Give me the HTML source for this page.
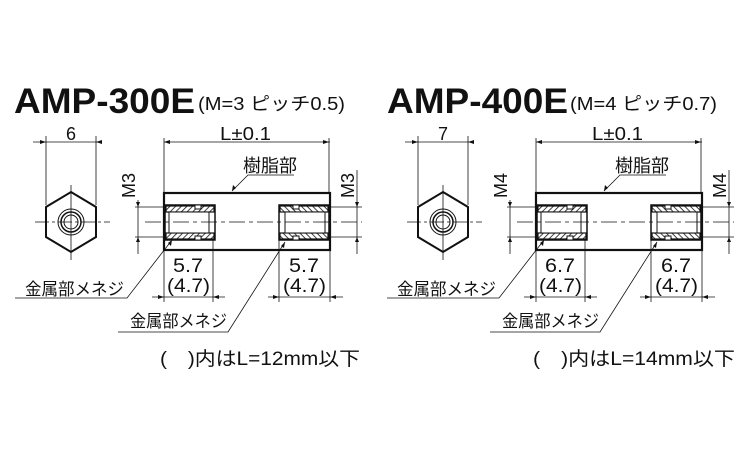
<!DOCTYPE html>
<html><head><meta charset="utf-8"><style>
html,body{margin:0;padding:0;background:#fff;width:750px;height:450px;overflow:hidden}
svg{display:block}
text{font-family:"Liberation Sans","Noto Sans CJK JP",sans-serif;fill:#111}
</style></head><body>
<svg width="750" height="450" viewBox="0 0 750 450" xmlns="http://www.w3.org/2000/svg">
<defs>
<pattern id="h" width="4" height="4" patternUnits="userSpaceOnUse" patternTransform="rotate(45)">
<rect width="4" height="4" fill="#fff"/><line x1="0" y1="0" x2="0" y2="4" stroke="#111" stroke-width="1.6"/></pattern>
<g id="ins">
<rect x="0" y="0" width="50" height="35" fill="#fff" stroke="#111" stroke-width="1.5"/>
<rect x="1" y="1" width="48" height="6" fill="url(#h)" stroke="#111" stroke-width="1.2"/>
<rect x="1" y="28" width="48" height="6" fill="url(#h)" stroke="#111" stroke-width="1.2"/>
<rect x="4" y="7" width="40" height="21" fill="#fff" stroke="#111" stroke-width="1"/>
<rect x="30" y="0" width="6" height="4" fill="#fff" stroke="#111" stroke-width="1"/>
<rect x="30" y="31" width="6" height="4" fill="#fff" stroke="#111" stroke-width="1"/>
</g>
<g id="part" stroke="#111" fill="none">
<line x1="33" y1="142" x2="100" y2="142" stroke-width="0.8"/>
<line x1="46" y1="136" x2="46" y2="205" stroke-width="0.8"/>
<line x1="96" y1="136" x2="96" y2="205" stroke-width="0.8"/>
<polygon points="71,192 96,207 96,237 71,252 46,237 46,207" stroke-width="2" fill="#fff"/>
<circle cx="71" cy="222" r="13" stroke-width="1"/>
<circle cx="71" cy="222" r="10" stroke-width="1.5"/>
<circle cx="71" cy="222" r="7" stroke-width="1"/>
<line x1="35" y1="222" x2="110" y2="222" stroke-width="0.8" stroke-dasharray="14,3,3,3"/>
<line x1="71" y1="185" x2="71" y2="260" stroke-width="0.8"/>
<line x1="164" y1="142" x2="330" y2="142" stroke-width="0.8"/>
<line x1="164" y1="138" x2="164" y2="193" stroke-width="0.8"/>
<line x1="329" y1="138" x2="329" y2="193" stroke-width="0.8"/>
<rect x="164" y="193" width="166" height="57" stroke-width="2.2" fill="#fff"/>
<use href="#ins" x="165" y="205"/>
<use href="#ins" transform="translate(329,205) scale(-1,1)"/>
<line x1="145" y1="222" x2="362" y2="222" stroke-width="0.8" stroke-dasharray="16,4,4,4"/>
<line x1="135" y1="207" x2="165" y2="207" stroke-width="0.8"/>
<line x1="135" y1="237" x2="165" y2="237" stroke-width="0.8"/>
<line x1="138" y1="200" x2="138" y2="254" stroke-width="0.8"/>
<line x1="330" y1="207" x2="362" y2="207" stroke-width="0.8"/>
<line x1="330" y1="237" x2="362" y2="237" stroke-width="0.8"/>
<line x1="357" y1="170" x2="357" y2="254" stroke-width="0.8"/>
<polyline points="294,175 248,175 232,191" stroke-width="0.8"/>
<line x1="152" y1="297" x2="225" y2="297" stroke-width="0.8"/>
<line x1="213" y1="240" x2="213" y2="302" stroke-width="0.8"/>
<line x1="164" y1="250" x2="164" y2="302" stroke-width="0.8"/>
<line x1="268" y1="297" x2="343" y2="297" stroke-width="0.8"/>
<line x1="279" y1="240" x2="279" y2="302" stroke-width="0.8"/>
<line x1="330" y1="250" x2="330" y2="302" stroke-width="0.8"/>
<polyline points="15,298 127,298 172,240" stroke-width="0.8"/>
<polyline points="118,332 228,332 285,242" stroke-width="0.8"/>
</g>
<g id="arr" fill="#111">
<path d="M164,142 l6,-2 v4z M329,142 l-6,-2 v4z"/>
<path d="M46,142 l-6,-2 v4z M96,142 l6,-2 v4z"/>
<path d="M138,207 l-2,-5 h4z M138,237 l-2,5 h4z M357,207 l-2,-5 h4z M357,237 l-2,5 h4z"/>
<path d="M164,297 l-6,-2 v4z M213,297 l6,-2 v4z M279,297 l-6,-2 v4z M330,297 l6,-2 v4z"/>
<path d="M232,191 l1,-6 l3,3z M172,240 l-1,6 l-3,-3z M285,242 l-1,6 l-3,-2z"/>
</g>
</defs>

<use href="#part"/><use href="#arr"/>
<use href="#part" x="372"/><use href="#arr" x="372"/>

<text x="14" y="113" font-size="35" font-weight="bold" textLength="181" lengthAdjust="spacingAndGlyphs">AMP-300E</text>
<text x="198" y="110" font-size="18" textLength="147" lengthAdjust="spacingAndGlyphs">(M=3 ピッチ0.5)</text>
<text x="66" y="140" font-size="18">6</text>
<text x="220" y="140" font-size="18" textLength="51" lengthAdjust="spacingAndGlyphs">L±0.1</text>
<text x="243" y="172" font-size="18" textLength="54" lengthAdjust="spacingAndGlyphs">樹脂部</text>
<text transform="translate(135,198) rotate(-90)" font-size="18" textLength="25" lengthAdjust="spacingAndGlyphs">M3</text>
<text transform="translate(354,198) rotate(-90)" font-size="18" textLength="25" lengthAdjust="spacingAndGlyphs">M3</text>
<text x="173" y="272" font-size="19" textLength="30" lengthAdjust="spacingAndGlyphs">5.7</text>
<text x="167" y="292" font-size="19" textLength="43" lengthAdjust="spacingAndGlyphs">(4.7)</text>
<text x="289" y="272" font-size="19" textLength="30" lengthAdjust="spacingAndGlyphs">5.7</text>
<text x="283" y="292" font-size="19" textLength="43" lengthAdjust="spacingAndGlyphs">(4.7)</text>
<text x="25" y="295" font-size="17" textLength="99" lengthAdjust="spacingAndGlyphs">金属部メネジ</text>
<text x="130" y="327" font-size="17" textLength="97" lengthAdjust="spacingAndGlyphs">金属部メネジ</text>
<text x="160" y="365" font-size="19" textLength="200" lengthAdjust="spacingAndGlyphs">(　)内はL=12mm以下</text>

<text x="387" y="113" font-size="35" font-weight="bold" textLength="181" lengthAdjust="spacingAndGlyphs">AMP-400E</text>
<text x="570" y="110" font-size="18" textLength="147" lengthAdjust="spacingAndGlyphs">(M=4 ピッチ0.7)</text>
<text x="438" y="140" font-size="18">7</text>
<text x="592" y="140" font-size="18" textLength="51" lengthAdjust="spacingAndGlyphs">L±0.1</text>
<text x="615" y="172" font-size="18" textLength="54" lengthAdjust="spacingAndGlyphs">樹脂部</text>
<text transform="translate(507,198) rotate(-90)" font-size="18" textLength="25" lengthAdjust="spacingAndGlyphs">M4</text>
<text transform="translate(726,198) rotate(-90)" font-size="18" textLength="25" lengthAdjust="spacingAndGlyphs">M4</text>
<text x="545" y="272" font-size="19" textLength="30" lengthAdjust="spacingAndGlyphs">6.7</text>
<text x="539" y="292" font-size="19" textLength="43" lengthAdjust="spacingAndGlyphs">(4.7)</text>
<text x="661" y="272" font-size="19" textLength="30" lengthAdjust="spacingAndGlyphs">6.7</text>
<text x="655" y="292" font-size="19" textLength="43" lengthAdjust="spacingAndGlyphs">(4.7)</text>
<text x="397" y="295" font-size="17" textLength="99" lengthAdjust="spacingAndGlyphs">金属部メネジ</text>
<text x="502" y="327" font-size="17" textLength="97" lengthAdjust="spacingAndGlyphs">金属部メネジ</text>
<text x="533" y="365" font-size="19" textLength="202" lengthAdjust="spacingAndGlyphs">(　)内はL=14mm以下</text>
</svg>
</body></html>
